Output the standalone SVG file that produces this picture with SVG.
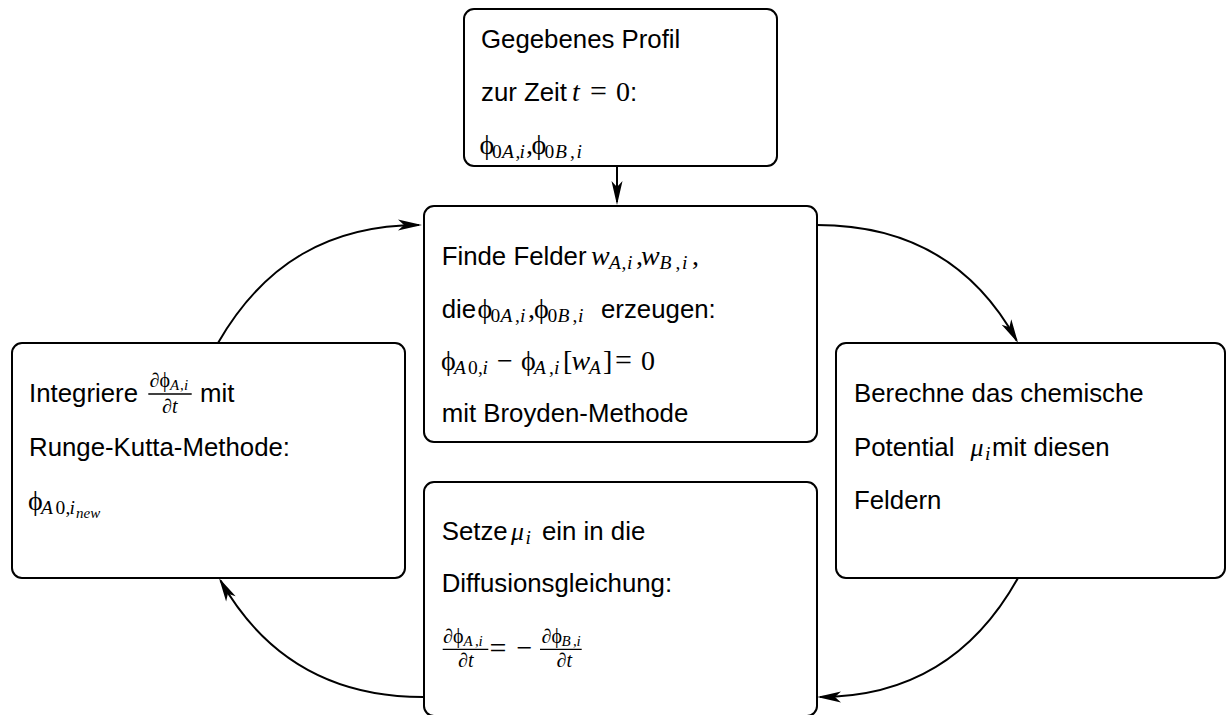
<svg xmlns="http://www.w3.org/2000/svg" width="1227" height="715" viewBox="0 0 1227 715">
<style>
.box{fill:#fff;stroke:#000;stroke-width:2}
.t{font-family:"Liberation Sans",Arial,sans-serif;font-size:25.8px;fill:#000}
.m{font-family:"Liberation Serif","DejaVu Serif",serif;font-size:28px;fill:#000}
.i{font-style:italic}
.s{font-size:19.5px}
.ss{font-size:15px}
.f{font-size:20px}
.fs{font-size:15px}
.eq{font-size:30px}
.mu{font-size:25.8px}
.c{fill:none;stroke:#000;stroke-width:2}
.bar{stroke:#000;stroke-width:1.3}
</style>
<defs>
<marker id="ah" viewBox="-22 -6 26 12" refX="0" refY="0" markerWidth="26" markerHeight="12" orient="auto" markerUnits="userSpaceOnUse">
<path d="M3,0 L-21,-5.5 L-15,0 L-21,5.5 Z" fill="#000"/>
</marker>
</defs>
<g id="connectors">
<path class="c" d="M617,166 L617,202" marker-end="url(#ah)"/>
<path class="c" d="M218,343 C264,263 330,225 419,225" marker-end="url(#ah)"/>
<path class="c" d="M817,225 C908,225 974,263 1016.6,340.4" marker-end="url(#ah)"/>
<path class="c" d="M1018,578 C974,657 908,697 820,697" marker-end="url(#ah)"/>
<path class="c" d="M423,697 C330,697 264,657 220.5,580.6" marker-end="url(#ah)"/>
</g>
<g id="start">
<rect class="box" x="464" y="9" width="313" height="157" rx="10"/>
<text class="t" x="481" y="48">Gegebenes Profil</text>
<text class="t" x="481" y="101">zur Zeit</text>
<text class="m" y="101"><tspan class="i" x="572">t</tspan><tspan class="eq" x="590">=</tspan><tspan x="616">0</tspan></text>
<text class="t" x="630" y="101">:</text>
<text class="m" y="154"><tspan x="479.5">ϕ</tspan><tspan class="s" x="492" y="158">0</tspan><tspan class="s i" x="502" y="158">A</tspan><tspan class="s" x="515.5" y="158">,</tspan><tspan class="s i" x="519.5" y="158">i</tspan><tspan x="526" y="154">,</tspan><tspan x="531.5" y="154">ϕ</tspan><tspan class="s" x="544.5" y="158">0</tspan><tspan class="s i" x="555" y="158">B</tspan><tspan class="s" x="570" y="158">,</tspan><tspan class="s i" x="576.5" y="158">i</tspan></text>
</g>
<g id="felder">
<rect class="box" x="424" y="206" width="393" height="236" rx="10"/>
<text class="t" x="441.7" y="265">Finde Felder</text>
<text class="m" y="265"><tspan class="i" x="591">w</tspan><tspan class="s i" x="609" y="269">A</tspan><tspan class="s" x="621.5" y="269">,</tspan><tspan class="s i" x="627" y="269">i</tspan><tspan x="636" y="265">,</tspan><tspan class="i" x="641" y="265">w</tspan><tspan class="s i" x="659.5" y="269">B</tspan><tspan class="s" x="675.5" y="269">,</tspan><tspan class="s i" x="682" y="269">i</tspan><tspan x="692" y="265">,</tspan></text>
<text class="t" x="441.7" y="318">die</text>
<text class="m" y="318"><tspan x="477.5">ϕ</tspan><tspan class="s" x="490.5" y="322">0</tspan><tspan class="s i" x="500.5" y="322">A</tspan><tspan class="s" x="515" y="322">,</tspan><tspan class="s i" x="520" y="322">i</tspan><tspan x="528" y="318">,</tspan><tspan x="534" y="318">ϕ</tspan><tspan class="s" x="547.5" y="322">0</tspan><tspan class="s i" x="557.5" y="322">B</tspan><tspan class="s" x="572.5" y="322">,</tspan><tspan class="s i" x="578" y="322">i</tspan></text>
<text class="t" x="601" y="318">erzeugen:</text>
<text class="m" y="370"><tspan x="441">ϕ</tspan><tspan class="s i" x="454" y="374">A</tspan><tspan class="s" x="468" y="374">0</tspan><tspan class="s" x="478" y="374">,</tspan><tspan class="s i" x="482.5" y="374">i</tspan><tspan x="497" y="370">−</tspan><tspan x="521" y="370">ϕ</tspan><tspan class="s i" x="534" y="374">A</tspan><tspan class="s" x="549" y="374">,</tspan><tspan class="s i" x="554" y="374">i</tspan><tspan x="563" y="370">[</tspan><tspan class="i" x="571.5" y="370">w</tspan><tspan class="s i" x="589" y="374">A</tspan><tspan x="603" y="370">]</tspan><tspan class="eq" x="615" y="370">=</tspan><tspan x="641" y="370">0</tspan></text>
<text class="t" x="441.7" y="422">mit Broyden-Methode</text>
</g>
<g id="integriere">
<rect class="box" x="12" y="343" width="393" height="235" rx="10"/>
<text class="t" x="29" y="402">Integriere</text>
<text class="m f" y="387"><tspan x="149.5">∂ϕ</tspan><tspan class="fs i" x="170" y="390">A</tspan><tspan class="fs" x="180" y="390">,</tspan><tspan class="fs i" x="184" y="390">i</tspan></text>
<line class="bar" x1="148.3" y1="394" x2="191.7" y2="394"/>
<text class="m f" x="162" y="412.5">∂<tspan class="i">t</tspan></text>
<text class="t" x="200" y="402">mit</text>
<text class="t" x="29" y="456">Runge-Kutta-Methode:</text>
<text class="m" y="510"><tspan x="28">ϕ</tspan><tspan class="s i" x="41" y="514">A</tspan><tspan class="s" x="55.5" y="514">0</tspan><tspan class="s" x="65.5" y="514">,</tspan><tspan class="s i" x="69.5" y="514">i</tspan><tspan class="ss i" x="76" y="518">new</tspan></text>
</g>
<g id="potential">
<rect class="box" x="836" y="343" width="389" height="235" rx="10"/>
<text class="t" x="854" y="402">Berechne das chemische</text>
<text class="t" x="854" y="455.5">Potential</text>
<text class="m" y="455.5"><tspan class="i mu" x="970.5">μ</tspan><tspan class="s i" x="985" y="459.5">i</tspan></text>
<text class="t" x="992" y="455.5">mit diesen</text>
<text class="t" x="854" y="508.5">Feldern</text>
</g>
<g id="diffusion">
<rect class="box" x="424" y="482" width="393" height="234" rx="10"/>
<text class="t" x="441.7" y="540">Setze</text>
<text class="m" y="540"><tspan class="i mu" x="511">μ</tspan><tspan class="s i" x="525.5" y="544">i</tspan></text>
<text class="t" x="542" y="540">ein in die</text>
<text class="t" x="441.7" y="592">Diffusionsgleichung:</text>
<text class="m f" y="643"><tspan x="443">∂ϕ</tspan><tspan class="fs i" x="463.5" y="645.5">A</tspan><tspan class="fs" x="475" y="645.5">,</tspan><tspan class="fs i" x="478.5" y="645.5">i</tspan></text>
<line class="bar" x1="442.7" y1="649.3" x2="488.3" y2="649.3"/>
<text class="m f" x="458" y="666.7">∂<tspan class="i">t</tspan></text>
<text class="m eq" x="489.5" y="658">=</text>
<text class="m" x="516.5" y="656.5">−</text>
<text class="m f" y="643"><tspan x="541.5">∂ϕ</tspan><tspan class="fs i" x="561.5" y="645.5">B</tspan><tspan class="fs" x="573" y="645.5">,</tspan><tspan class="fs i" x="576.5" y="645.5">i</tspan></text>
<line class="bar" x1="540" y1="649.3" x2="581.7" y2="649.3"/>
<text class="m f" x="556.5" y="666.7">∂<tspan class="i">t</tspan></text>
</g>
</svg>
